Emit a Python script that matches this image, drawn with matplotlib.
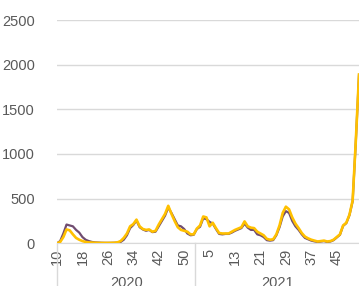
import numpy as np
import matplotlib
matplotlib.use("Agg")
import matplotlib.pyplot as plt
import matplotlib.transforms as mtransforms

# week numbers on the category axis (2020 w10..w53, 2021 w1..w52)
weeks = list(range(10, 54)) + list(range(1, 53))
years = ["2020"] * 44 + ["2021"] * 52

# yellow series
series_a = [0, 15, 70, 155, 145, 100, 60, 40, 25, 15,
            10, 8, 6, 5, 4, 4, 4, 5, 6, 10,
            25, 60, 110, 190, 215, 265, 190, 160, 150, 155,
            130, 140, 210, 270, 330, 420, 330, 250, 180, 150,
            140, 130, 100, 100, 165, 200, 300, 290, 190, 230,
            170, 115, 110, 110, 110, 130, 150, 165, 180, 245,
            190, 175, 170, 130, 110, 90, 50, 40, 45, 100,
            200, 340, 410, 380, 290, 220, 170, 115, 75, 55,
            40, 30, 20, 25, 30, 20, 25, 40, 70, 100,
            200, 230, 320, 480, 1150, 1890]

# purple series
series_b = [0, 25, 110, 210, 200, 190, 150, 120, 70, 40,
            25, 15, 10, 8, 6, 5, 5, 5, 6, 8,
            15, 40, 90, 170, 205, 255, 180, 155, 140, 150,
            125, 130, 190, 250, 310, 400, 340, 270, 200, 190,
            160, 110, 90, 95, 160, 185, 280, 270, 240, 220,
            160, 105, 100, 105, 105, 120, 140, 155, 170, 220,
            175, 150, 150, 100, 90, 70, 35, 30, 35, 90,
            180, 300, 360, 340, 250, 190, 150, 100, 60, 45,
            30, 22, 15, 20, 25, 15, 20, 35, 65, 95,
            195, 225, 315, 470, 1140, 1880]

plt.rcParams['font.family'] = ['Liberation Sans', 'DejaVu Sans']
grey_txt = "#595959"
grid_c = "#d9d9d9"

fig = plt.figure(figsize=(3.59, 2.86), dpi=100)
ax = fig.add_axes([57/359, 1 - 243.3/286, 1 - 57/359, 223.3/286])

x = np.arange(len(weeks))
ax.plot(x, series_b, color="#704c70", linewidth=1.6, zorder=3)
ax.plot(x, series_a, color="#ffc000", linewidth=1.9, zorder=4)

ax.set_xlim(0, len(weeks) - 1)
ax.set_ylim(0, 2500)
ax.set_yticks(range(0, 2501, 500))
ax.yaxis.grid(True, color=grid_c, linewidth=1)
ax.set_axisbelow(True)
for s in ["top", "right", "left"]:
    ax.spines[s].set_visible(False)
ax.spines["bottom"].set_color(grid_c)
ax.tick_params(axis="y", length=0, pad=16, labelsize=10.5, labelcolor=grey_txt)

tick_pos = x[::8]
ax.set_xticks(tick_pos)
ax.set_xticklabels([str(weeks[i]) for i in tick_pos], rotation=90)
ax.tick_params(axis="x", length=0, pad=4, labelsize=10.5, labelcolor=grey_txt)

# year grouping below the week labels
trans = mtransforms.blended_transform_factory(ax.transData, ax.transAxes)
split = years.index("2021") - 0.5
for xs in [0, split, len(weeks) - 0.5]:
    ax.plot([xs, xs], [0, -0.25], color=grid_c, linewidth=1,
            transform=trans, clip_on=False)
ax.text((0 + split) / 2, -0.145, "2020", transform=trans, ha="center",
        va="top", fontsize=10.5, color=grey_txt)
ax.text((split + len(weeks) - 1) / 2, -0.145, "2021", transform=trans,
        ha="center", va="top", fontsize=10.5, color=grey_txt)

fig.savefig("out.png", dpi=100)
